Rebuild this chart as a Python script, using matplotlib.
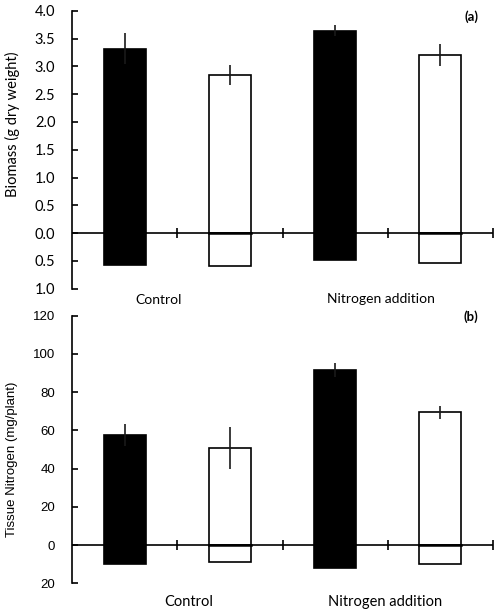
import matplotlib
matplotlib.use("Agg")
import matplotlib.pyplot as plt

# Data
categories = ["Control", "Nitrogen addition"]
biomass_above = [3.32, 2.85, 3.64, 3.20]
biomass_above_err = [0.27, 0.18, 0.10, 0.20]
biomass_below = [0.58, 0.59, 0.49, 0.53]
nitrogen_above = [57.4, 50.6, 91.5, 69.4]
nitrogen_above_err = [5.7, 11.0, 3.7, 3.5]
nitrogen_below = [10.1, 9.0, 12.2, 9.7]
bar_colors = ["black", "white", "black", "white"]
ticks_a = [-1.0, -0.5, 0.0, 0.5, 1.0, 1.5, 2.0, 2.5, 3.0, 3.5, 4.0]
ticks_b = [-20, 0, 20, 40, 60, 80, 100, 120]

W, H = 498, 615
fig = plt.figure(figsize=(W / 100, H / 100), dpi=100)

CAL = ["Lato", "DejaVu Sans"]
ARI = ["Liberation Sans", "DejaVu Sans"]

def fx(px):
    return px / W

def fy(py):
    return 1 - py / H

def panel(top_px, bot_px, ylim, above, err, below, ticks, fmt, tickfont, ticksize):
    ax = fig.add_axes([fx(72), fy(bot_px), fx(493) - fx(72), fy(top_px) - fy(bot_px)])
    x = [0.5, 1.5, 2.5, 3.5]
    ax.bar(x, above, width=0.4, color=bar_colors, edgecolor="black", linewidth=1.2, zorder=2)
    ax.bar(x, [-b for b in below], width=0.4, color=bar_colors, edgecolor="black", linewidth=1.2, zorder=2)
    ax.errorbar(x, above, yerr=err, fmt="none", ecolor="#1a1a1a", elinewidth=1.2, capsize=0, zorder=3)
    ax.axhline(0, color="black", linewidth=1.2, zorder=1)
    # zero line through white bars
    for xi, c in zip(x, bar_colors):
        if c == "white":
            ax.plot([xi - 0.2, xi + 0.2], [0, 0], color="black", linewidth=1.8, zorder=4)
    ax.plot([1, 2, 3, 4], [0, 0, 0, 0], linestyle="none", marker="|", markersize=7,
            markeredgewidth=1.2, color="black", zorder=1, clip_on=False)
    ax.set_xlim(0, 4)
    ax.set_ylim(*ylim)
    for s in ["top", "right", "bottom"]:
        ax.spines[s].set_visible(False)
    ax.spines["left"].set_linewidth(1.2)
    ax.set_xticks([])
    ax.set_yticks(ticks)
    ax.set_yticklabels([fmt(abs(t)) for t in ticks], fontfamily=tickfont, fontsize=ticksize)
    ax.tick_params(axis="y", direction="in", length=4, width=1.2, pad=12)
    return ax

ax1 = panel(10.7, 288.7, (-1.0, 4.0), biomass_above, biomass_above_err, biomass_below,
            ticks_a, lambda v: f"{v:.1f}", CAL, 10.5)
ax2 = panel(315.7, 583.3, (-20, 120), nitrogen_above, nitrogen_above_err, nitrogen_below,
            ticks_b, lambda v: f"{v:.0f}", ARI, 9.5)

fig.text(fx(12), fy(124), "Biomass (g dry weight)", rotation=90, ha="center", va="center",
         fontfamily=CAL, fontsize=10.5)
fig.text(fx(12), fy(459), "Tissue Nitrogen (mg/plant)", rotation=90, ha="center", va="center",
         fontfamily=ARI, fontsize=9.5)

fig.text(fx(159), fy(300), categories[0], ha="center", va="center", fontfamily=CAL, fontsize=10)
fig.text(fx(381), fy(299), categories[1], ha="center", va="center", fontfamily=CAL, fontsize=10)
fig.text(fx(189), fy(602), categories[0], ha="center", va="center", fontfamily=CAL, fontsize=10.5)
fig.text(fx(385), fy(602), categories[1], ha="center", va="center", fontfamily=CAL, fontsize=10.5)

fig.text(fx(471), fy(17), "(a)", ha="center", va="center", fontfamily=CAL, fontsize=9.5, fontweight="bold")
fig.text(fx(471), fy(317), "(b)", ha="center", va="center", fontfamily=CAL, fontsize=9.5, fontweight="bold")

fig.savefig("out.png", dpi=100, facecolor="white")
